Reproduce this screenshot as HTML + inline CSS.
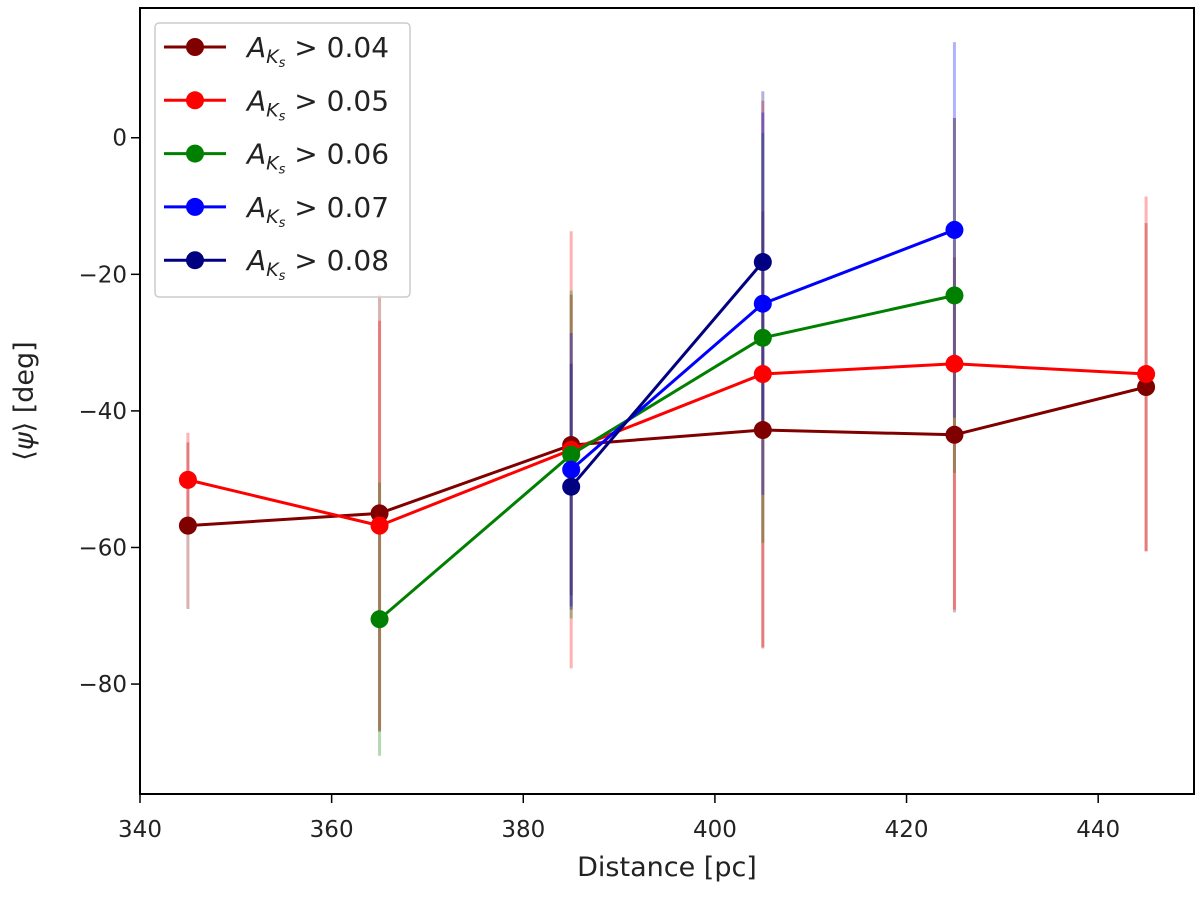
<!DOCTYPE html>
<html><head><meta charset="utf-8"><style>
body{margin:0;background:#fff;}
svg text{font-family:"DejaVu Sans","Liberation Sans",sans-serif;fill:#222;}
</style></head><body>
<svg id="chart" width="1200" height="892" viewBox="0 0 1200 892" xmlns="http://www.w3.org/2000/svg">
<g id="errs"></g>
<g id="lines"></g>
<rect x="140" y="8" width="1054" height="786" fill="none" stroke="#000" stroke-width="2"/>
<g id="axes"></g>
<text x="667" y="876" font-size="27" text-anchor="middle">Distance [pc]</text>
<text x="0" y="0" font-size="27" text-anchor="middle" transform="translate(33,401) rotate(-90)">⟨<tspan font-style="italic">ψ</tspan>⟩ [deg]</text>
<g id="legend"></g>
</svg>
<script>
const distances = [345, 365, 385, 405, 425, 445];
const seriesNames = ["0.04", "0.05", "0.06", "0.07", "0.08"];
const seriesColors = ["#800000", "#ff0000", "#008000", "#0000ff", "#000080"];
const psi004 = [-56.8, -55.0, -45.0, -42.8, -43.5, -36.5];
const psi005 = [-50.1, -56.8, -45.7, -34.6, -33.1, -34.6];
const psi006 = [null, -70.5, -46.4, -29.3, -23.1, null];
const psi007 = [null, null, -48.6, -24.3, -13.5, null];
const psi008 = [null, null, -51.1, -18.2, null, null];
const err004 = [12.2, 32, 22, 32, 26, 24];
const err005 = [6.9, 30, 32, 40, 36, 26];
const err006 = [null, 20, 24, 30, 26, null];
const err007 = [null, null, 20, 28, 27.5, null];
const err008 = [null, null, 18, 25, null, null];
const xTicks = [340, 360, 380, 400, 420, 440];
const yTicks = [0, -20, -40, -60, -80];

const NS = "http://www.w3.org/2000/svg";
const X0 = 140, X1 = 1194, Y0 = 8, Y1 = 794;
const xMin = 340, xMax = 450, yMin = -96.1, yMax = 19.0;
function xs(v){return X0 + (v - xMin) / (xMax - xMin) * (X1 - X0);}
function ys(v){return Y1 - (v - yMin) / (yMax - yMin) * (Y1 - Y0);}
function mk(tag, attrs, parent){const e=document.createElementNS(NS,tag);for(const k in attrs)e.setAttribute(k,attrs[k]);parent.appendChild(e);return e;}

const allPsi = [psi004, psi005, psi006, psi007, psi008];
const allErr = [err004, err005, err006, err007, err008];
const gE = document.getElementById('errs'), gL = document.getElementById('lines');
allPsi.forEach((vals, s) => {
  vals.forEach((v, i) => {
    if (v === null) return;
    const e = allErr[s][i];
    const l = mk('line', {x1: xs(distances[i]), x2: xs(distances[i]), y1: ys(v + e), y2: ys(v - e), stroke: seriesColors[s], 'stroke-width': 3, 'stroke-opacity': 0.3}, gE);
    
    
  });
});
allPsi.forEach((vals, s) => {
  const pts = [];
  vals.forEach((v, i) => { if (v !== null) pts.push(xs(distances[i]) + ',' + ys(v)); });
  const pl = mk('polyline', {points: pts.join(' '), fill: 'none', stroke: seriesColors[s], 'stroke-width': 3}, gL);
  
  
  vals.forEach((v, i) => {
    if (v === null) return;
    const c = mk('circle', {cx: xs(distances[i]), cy: ys(v), r: 9, fill: seriesColors[s]}, gL);
    
    
  });
});
const gA = document.getElementById('axes');
xTicks.forEach(t => {
  const l = mk('line', {x1: xs(t), x2: xs(t), y1: Y1, y2: Y1 + 9, stroke: '#000', 'stroke-width': 1.5}, gA);
  
  
  const tx = mk('text', {x: xs(t), y: Y1 + 43, 'font-size': 23, 'text-anchor': 'middle'}, gA);
  tx.textContent = t;
  
  
});
yTicks.forEach(t => {
  const l = mk('line', {x1: X0 - 9, x2: X0, y1: ys(t), y2: ys(t), stroke: '#000', 'stroke-width': 1.5}, gA);
  
  
  const tx = mk('text', {x: X0 - 13, y: ys(t) + 8, 'font-size': 23, 'text-anchor': 'end'}, gA);
  tx.textContent = t === 0 ? '0' : '\u2212' + Math.abs(t);
  
  
});
const gLeg = document.getElementById('legend');
const box = mk('rect', {x: 155, y: 23, width: 255, height: 274, rx: 4, fill: '#fff', 'fill-opacity': 0.8, stroke: '#ccc', 'stroke-width': 1.5}, gLeg);


seriesNames.forEach((n, s) => {
  const y = 47 + s * 53.3;
  const g = mk('g', {}, gLeg);
  
  
  mk('line', {x1: 164, x2: 226, y1: y, y2: y, stroke: seriesColors[s], 'stroke-width': 3}, g);
  mk('circle', {cx: 195, cy: y, r: 9, fill: seriesColors[s]}, g);
  const t = mk('text', {x: 247, y: y + 10, 'font-size': 28}, g);
  t.innerHTML = '<tspan font-style="italic">A</tspan><tspan font-style="italic" font-size="19" dy="6">K</tspan><tspan font-style="italic" font-size="13" dy="4">s</tspan><tspan dy="-10"> &gt; ' + n + '</tspan>';
});
</script>
</body></html>
